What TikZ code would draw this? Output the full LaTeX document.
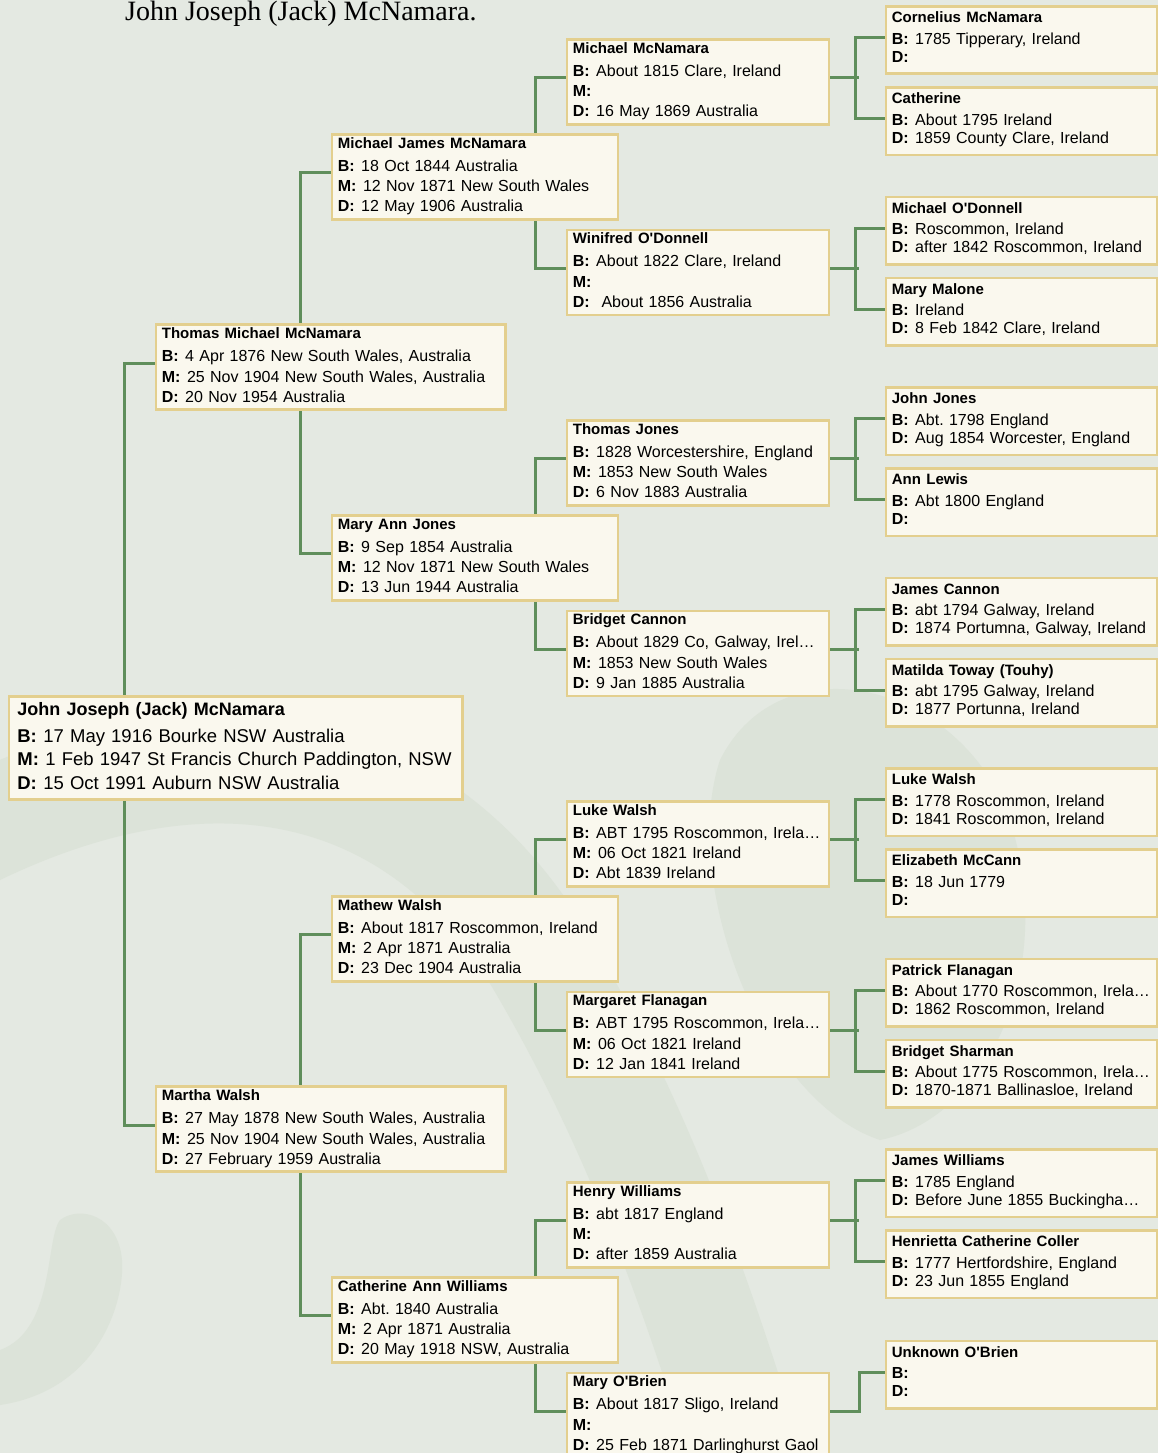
\documentclass[tikz,border=0pt]{standalone}
\usepackage{fontspec}
\setmainfont{Liberation Sans}
\newfontfamily\headfont{Liberation Serif}
\usetikzlibrary{positioning,backgrounds}

\definecolor{paper}{HTML}{E4E9E2}
\definecolor{swirl}{HTML}{DCE3D9}
\definecolor{boxfill}{HTML}{FAF8EE}
\definecolor{boxline}{HTML}{E3CF8E}
\definecolor{linkgreen}{HTML}{5F8E5B}

\pgfdeclarelayer{deco}
\pgfsetlayers{deco,background,main}

\frenchspacing
% one line per event, bold label
\newcommand{\lbl}[1]{\textbf{#1:}\hspace{6.5pt}}
\newcommand{\namept}{15}
\newcommand{\namegap}{2.7pt}
\newcommand{\pname}[1]{{\bfseries\fontsize{\namept}{18}\selectfont #1}}
\newcommand{\person}[4]{\pname{#1}\\[\namegap]\lbl{B}#2\\\lbl{M}#3\\\lbl{D}#4}
\newcommand{\parent}[3]{\pname{#1}\\[3.5pt]\lbl{B}#2\\\lbl{D}#3}
\newcommand{\ap}{\textquotesingle}

\tikzset{
  card/.style  = {rectangle, draw=boxline, line width=2.7pt, fill=boxfill,
                  anchor=north west, align=left, inner xsep=6pt, inner ysep=0pt},
  four/.style  = {card, font=\fontsize{16}{20.3}\selectfont,
                  text height=14pt, text depth=71pt},
  three/.style = {card, font=\fontsize{16}{18}\selectfont,
                  text height=16.5pt, text depth=51pt},
  gzero/.style = {card, inner xsep=8.5pt, text width=436.3pt,
                  font={\fontsize{18.5}{23.3}\selectfont\def\namept{18}\def\namegap{3.7pt}},
                  text height=19pt, text depth=83.7pt},
  gone/.style  = {four, text width=337.5pt},
  gtwo/.style  = {four, text width=274pt},
  gthree/.style= {four, text width=250pt},
  gfour/.style = {three, text width=259.5pt},
  head/.style  = {anchor=base west, inner sep=0pt,
                  font=\headfont\fontsize{28}{30}\selectfont},
  link/.style  = {draw=linkgreen, line width=3.2pt},
}

\begin{document}
\begin{tikzpicture}[x=1pt, y=-1pt]

  \useasboundingbox (0,0) rectangle (1158,1453);
  \clip (0,0) rectangle (1158,1453);

  \begin{pgfonlayer}{deco}
    \fill[paper] (0,0) rectangle (1158,1453);
    % faint swirls behind the chart
    \draw[swirl, line width=110pt] (-80,860) .. controls (200,700) and (420,760) .. (540,960)
          .. controls (640,1130) and (700,1300) .. (760,1500);
    \fill[swirl] (720,760) .. controls (780,640) and (960,680) .. (1010,820)
          .. controls (1060,980) and (980,1120) .. (880,1140)
          .. controls (760,1100) and (680,880) .. cycle;
    \fill[swirl] (0,1405) .. controls (100,1390) and (125,1300) .. (122,1260)
          .. controls (118,1215) and (80,1205) .. (60,1220)
          .. controls (45,1240) and (55,1330) .. (0,1350) -- cycle;
  \end{pgfonlayer}

  \node[head] (title) at (125,21) {John Joseph (Jack) McNamara.};

  % generation 0 and 1
  \node[gzero] (jack) at (7.5,695.3)
       {\person{John Joseph (Jack) McNamara}{17 May 1916 Bourke NSW Australia}{1 Feb 1947 St Francis Church Paddington, NSW}{15 Oct 1991 Auburn NSW Australia}};
  \node[gone] (thomas) at (154.5,323.4)
       {\person{Thomas Michael McNamara}{4 Apr 1876 New South Wales, Australia}{25 Nov 1904 New South Wales, Australia}{20 Nov 1954 Australia}};
  \node[gone] (martha) at (154.5,1085.4)
       {\person{Martha Walsh}{27 May 1878 New South Wales, Australia}{25 Nov 1904 New South Wales, Australia}{27 February 1959 Australia}};

  % generation 2
  \node[gtwo] (mjames) at (330.5,133)
       {\person{Michael James McNamara}{18 Oct 1844 Australia}{12 Nov 1871 New South Wales}{12 May 1906 Australia}};
  \node[gtwo] (maryann) at (330.5,514)
       {\person{Mary Ann Jones}{9 Sep 1854 Australia}{12 Nov 1871 New South Wales}{13 Jun 1944 Australia}};
  \node[gtwo] (mathew) at (330.5,895)
       {\person{Mathew Walsh}{About 1817 Roscommon, Ireland}{2 Apr 1871 Australia}{23 Dec 1904 Australia}};
  \node[gtwo] (cathann) at (330.5,1276)
       {\person{Catherine Ann Williams}{Abt. 1840 Australia}{2 Apr 1871 Australia}{20 May 1918 NSW, Australia}};

  % generation 3
  \node[gthree] (michael) at (565.5,38)
       {\person{Michael McNamara}{About 1815 Clare, Ireland}{}{16 May 1869 Australia}};
  \node[gthree] (winifred) at (565.5,228.5)
       {\person{Winifred O\ap Donnell}{About 1822 Clare, Ireland}{}{\ About 1856 Australia}};
  \node[gthree] (tjones) at (565.5,419)
       {\person{Thomas Jones}{1828 Worcestershire, England}{1853 New South Wales}{6 Nov 1883 Australia}};
  \node[gthree] (bridget) at (565.5,609.5)
       {\person{Bridget Cannon}{About 1829 Co, Galway, Irel…}{1853 New South Wales}{9 Jan 1885 Australia}};
  \node[gthree] (lukew) at (565.5,800)
       {\person{Luke Walsh}{ABT 1795 Roscommon, Irela…}{06 Oct 1821 Ireland}{Abt 1839 Ireland}};
  \node[gthree] (margaret) at (565.5,990.5)
       {\person{Margaret Flanagan}{ABT 1795 Roscommon, Irela…}{06 Oct 1821 Ireland}{12 Jan 1841 Ireland}};
  \node[gthree] (henry) at (565.5,1181)
       {\person{Henry Williams}{abt 1817 England}{}{after 1859 Australia}};
  \node[gthree] (maryob) at (565.5,1371.5)
       {\person{Mary O\ap Brien}{About 1817 Sligo, Ireland}{}{25 Feb 1871 Darlinghurst Gaol}};

  % generation 4
  \node[gfour] (cornelius) at (884.5,5)      {\parent{Cornelius McNamara}{1785 Tipperary, Ireland}{}};
  \node[gfour] (catherine) at (884.5,86)     {\parent{Catherine}{About 1795 Ireland}{1859 County Clare, Ireland}};
  \node[gfour] (modonnell) at (884.5,195.5)  {\parent{Michael O\ap Donnell}{Roscommon, Ireland}{after 1842 Roscommon, Ireland}};
  \node[gfour] (mmalone) at (884.5,276.5)    {\parent{Mary Malone}{Ireland}{8 Feb 1842 Clare, Ireland}};
  \node[gfour] (jjones) at (884.5,386)       {\parent{John Jones}{Abt. 1798 England}{Aug 1854 Worcester, England}};
  \node[gfour] (alewis) at (884.5,467)       {\parent{Ann Lewis}{Abt 1800 England}{}};
  \node[gfour] (jcannon) at (884.5,576.5)    {\parent{James Cannon}{abt 1794 Galway, Ireland}{1874 Portumna, Galway, Ireland}};
  \node[gfour] (matilda) at (884.5,657.5)    {\parent{Matilda Toway (Touhy)}{abt 1795 Galway, Ireland}{1877 Portunna, Ireland}};
  \node[gfour] (lukesr) at (884.5,767)       {\parent{Luke Walsh}{1778 Roscommon, Ireland}{1841 Roscommon, Ireland}};
  \node[gfour] (emccann) at (884.5,848)      {\parent{Elizabeth McCann}{18 Jun 1779}{}};
  \node[gfour] (pflanagan) at (884.5,957.5)  {\parent{Patrick Flanagan}{About 1770 Roscommon, Irela…}{1862 Roscommon, Ireland}};
  \node[gfour] (bsharman) at (884.5,1038.5)  {\parent{Bridget Sharman}{About 1775 Roscommon, Irela…}{1870-1871 Ballinasloe, Ireland}};
  \node[gfour] (jwilliams) at (884.5,1148)   {\parent{James Williams}{1785 England}{Before June 1855 Buckingha…}};
  \node[gfour] (henrietta) at (884.5,1229)   {\parent{Henrietta Catherine Coller}{1777 Hertfordshire, England}{23 Jun 1855 England}};
  \node[gfour] (unknownob) at (884.5,1339.5) {\parent{Unknown O\ap Brien}{}{}};

  \begin{scope}[on background layer]
    % elbow links to the parents
    \draw[link] ([yshift=4pt]thomas.west) -- ++(-30,0) coordinate (ja) -- (ja |- jack.north);
    \draw[link] ([yshift=4pt]martha.west) -- ++(-30,0) coordinate (jb) -- (jb |- jack.south);
    \foreach \kid/\dad/\mum in {thomas/mjames/maryann, martha/mathew/cathann,
        mjames/michael/winifred, maryann/tjones/bridget,
        mathew/lukew/margaret, cathann/henry/maryob} {
      \draw[link] ([yshift=4pt]\dad.west) -- ++(-30,0) coordinate (jd) -- (jd |- \kid.north);
      \draw[link] ([yshift=4pt]\mum.west) -- ++(-30,0) coordinate (jm) -- (jm |- \kid.south);
    }
    \foreach \kid/\dad/\mum in {michael/cornelius/catherine, winifred/modonnell/mmalone,
        tjones/jjones/alewis, bridget/jcannon/matilda, lukew/lukesr/emccann,
        margaret/pflanagan/bsharman, henry/jwilliams/henrietta} {
      \draw[link] ([yshift=4pt]\kid.east) -- ++(29,0);
      \draw[link] ([yshift=2.5pt]\dad.west) -- ++(-29,0) |- ([yshift=2.5pt]\mum.west);
    }
    \draw[link] ([yshift=4pt]maryob.east) -- ++(29,0) |- ([yshift=2.5pt]unknownob.west);
  \end{scope}

\end{tikzpicture}
\end{document}
